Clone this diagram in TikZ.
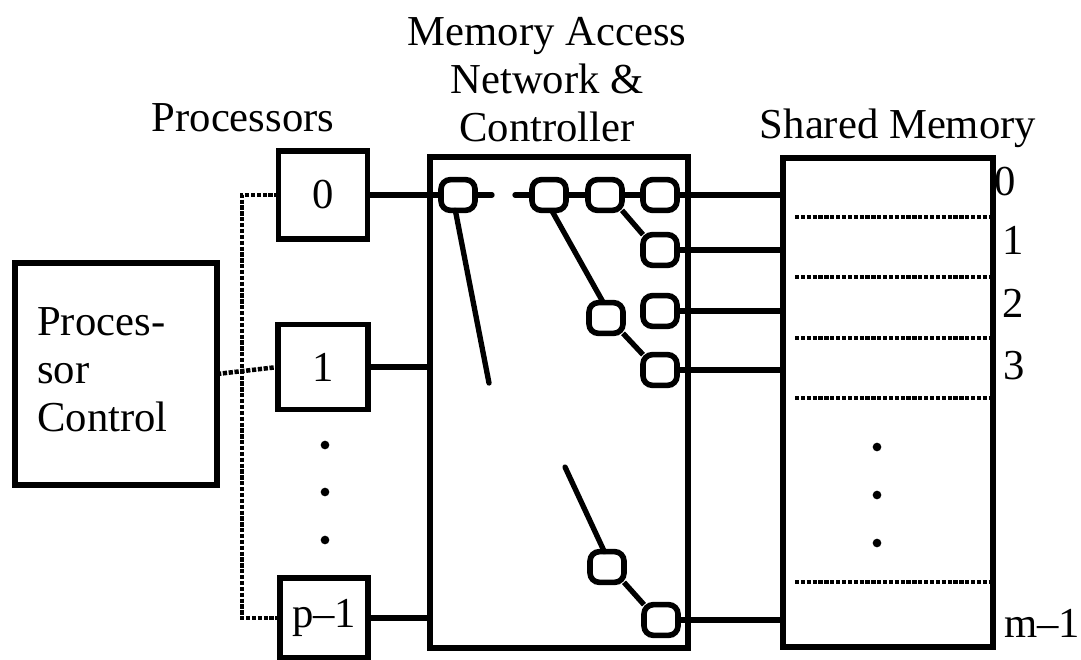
\documentclass[tikz,border=0pt]{standalone}
\usepackage{fontspec}
\setmainfont{Liberation Serif}
\begin{document}
\begin{tikzpicture}[x=0.75pt,y=-0.75pt,
  txt/.style={font=\fontsize{32}{36}\selectfont, inner sep=0pt},
  box/.style={draw, line width=4.2pt, inner sep=0pt, outer sep=0pt, font=\fontsize{32}{36}\selectfont},
  sw/.style={draw, line width=4.2pt, rounded corners=7pt, minimum width=25.5pt, minimum height=23pt, inner sep=0pt, outer sep=0pt},
  wire/.style={line width=4pt},
  bus/.style={line width=3.4pt, dash pattern=on 3.2pt off 1.2pt},
  dotm/.style={fill, circle, inner sep=0pt, minimum size=6.5pt}]
\useasboundingbox (0,0) rectangle (1081,660);
% titles
\node[txt] (tproc) at (243,118) {Processors};
\node[txt, align=center] (tnet) at (547,80) {Memory Access\\Network \&\\Controller};
\node[txt] (tmem) at (898,128) {Shared Memory};
% processor control
\node[box, minimum width=151.5pt, minimum height=166.5pt] (pc) at (116,374) {};
\node[txt, align=left, anchor=west] (pctext) at (37,370) {Proces-\\sor\\Control};
% processors
\node[box, minimum width=66.75pt, minimum height=66pt] (p0) at (323,195) {0};
\node[box, minimum width=67.5pt, minimum height=64pt] (p1) at (323,367) {1};
\node[box, minimum width=66pt, minimum height=60pt] (pm) at (324,618) {p--1};
\node[dotm] (d1) at (325,445) {};
\node[dotm] (d2) at (325,492) {};
\node[dotm] (d3) at (325,540) {};
% bus
\coordinate (bus) at (242,195);
\draw[bus] (p0.west) -- (p0.west -| bus) -- (pm.west -| bus) -- (pm.west);
\draw[bus] (pc.east) -- (p1.west);
% network box
\node[box, minimum width=193.5pt, minimum height=368pt] (net) at (559,402.5) {};
% memory box
\node[box, minimum width=157.5pt, minimum height=367pt] (mem) at (888,402.5) {};
% switches
\node[sw] (s1) at (458,195) {};
\node[sw] (s2) at (549,195) {};
\node[sw] (s3) at (605,195) {};
\node[sw] (s4) at (660,195) {};
\node[sw] (s5) at (660,250) {};
\node[sw] (s6) at (606,318) {};
\node[sw] (s7) at (660,311) {};
\node[sw] (s8) at (660,370) {};
\node[sw] (s9) at (607,567) {};
\node[sw] (s10) at (661,620) {};
% processor to network
\draw[wire] (p0.east) -- (s1.west);
\draw[wire] (p1.east) -- (p1.east -| net.west);
\draw[wire] (pm.east) -- (pm.east -| net.west);
% network internals
\coordinate (stub1) at (492,195);
\coordinate (stub2) at (515,195);
\coordinate (free1) at (489,383);
\coordinate (free2) at (565,467);
\draw[wire, line cap=round] (s1.east) -- (stub1);
\draw[wire, line cap=round] (stub2) -- (s2.west);
\draw[wire] (s2.east) -- (s3.west);
\draw[wire] (s3.east) -- (s4.west);
\draw[wire] (s3.south east) -- (s5.north west);
\draw[wire] (s6.south east) -- (s8.north west);
\draw[wire] (s9.south east) -- (s10.north west);
\draw[wire, line cap=round] ([xshift=-2pt]s1.south) -- (free1);
\draw[wire] ([xshift=2pt]s2.south) -- ([xshift=-2pt]s6.north);
\draw[wire, line cap=round] (free2) -- ([xshift=-2pt]s9.north);
% network to memory
\draw[wire] (s4.east) -- (s4.east -| mem.west);
\draw[wire] (s5.east) -- (s5.east -| mem.west);
\draw[wire] (s7.east) -- (s7.east -| mem.west);
\draw[wire] (s8.east) -- (s8.east -| mem.west);
\draw[wire] (s10.east) -- (s10.east -| mem.west);
% memory rows
\foreach \y/\n in {217/r1,277/r2,338/r3,398/r4,582/r5} {
  \coordinate (\n) at (795,\y);
  \draw[bus] (\n) -- (\n -| mem.east);
}
\node[dotm] (md1) at (877,447) {};
\node[dotm] (md2) at (877,495) {};
\node[dotm] (md3) at (877,543) {};
% labels
\node[txt] (l0) at (1005,182) {0};
\node[txt] (l1) at (1013,240) {1};
\node[txt] (l2) at (1013,303) {2};
\node[txt] (l3) at (1014,366) {3};
\node[txt] (lm) at (1042,623) {m--1};
\end{tikzpicture}
\end{document}
